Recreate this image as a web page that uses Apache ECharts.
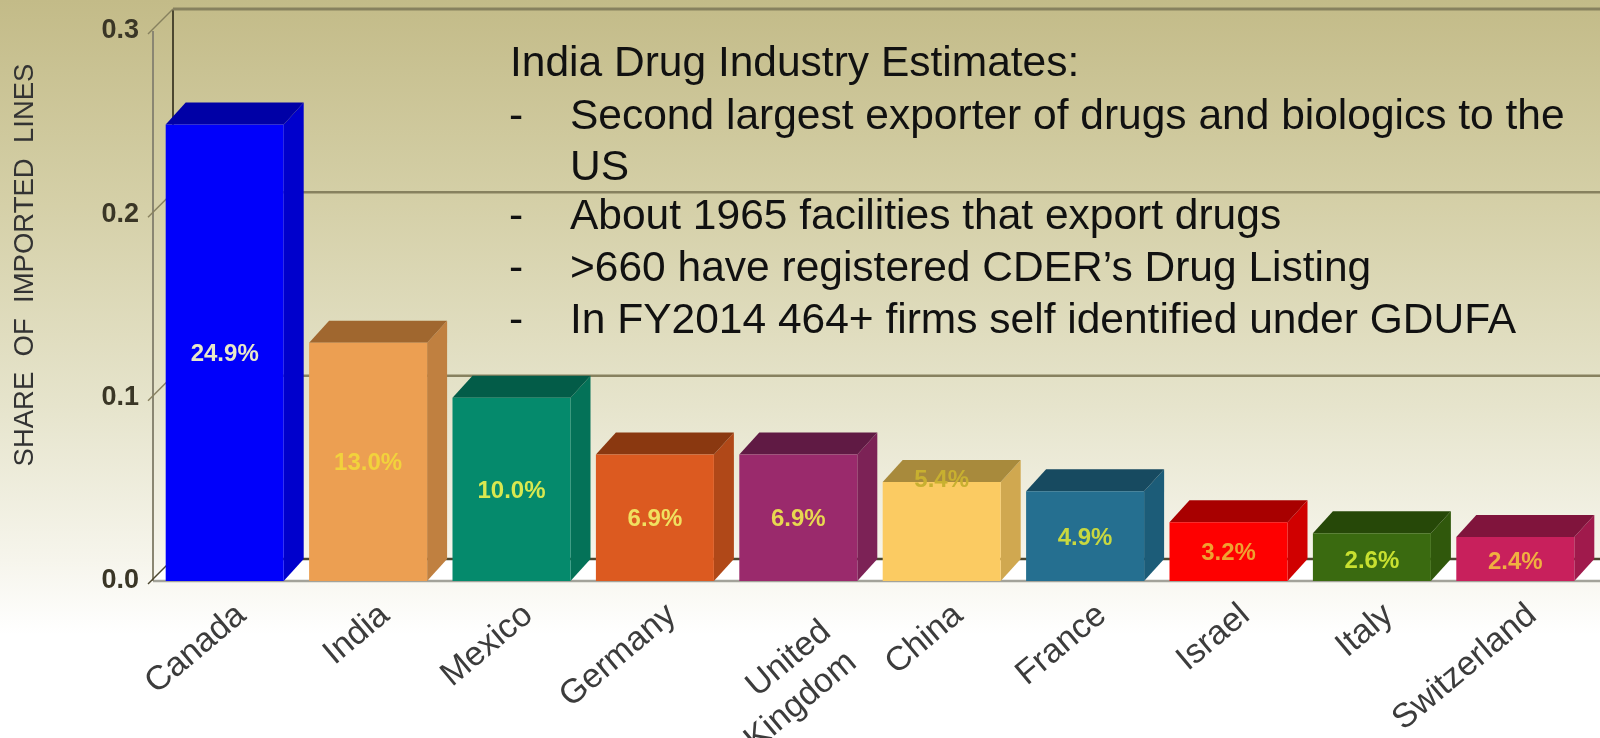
<!DOCTYPE html>
<html>
<head>
<meta charset="utf-8">
<style>html,body{margin:0;padding:0;background:#fff}#chart{width:1600px;height:738px}</style>
<script src="https://cdn.jsdelivr.net/npm/echarts@6/dist/echarts.min.js"></script>
</head>
<body>
<div id="chart"></div>
<script>
// Imported drug lines by country of origin
const countries = ['Canada','India','Mexico','Germany','United\nKingdom','China','France','Israel','Italy','Switzerland'];
const shares = [0.249,0.130,0.100,0.069,0.069,0.054,0.049,0.032,0.026,0.024];
const shareLabels = ['24.9%','13.0%','10.0%','6.9%','6.9%','5.4%','4.9%','3.2%','2.6%','2.4%'];
const labelLevels = [0.1245,0.065,0.05,0.0345,0.0345,0.056,0.0245,0.016,0.012,0.011];
const frontColors = ['#0000fb','#ec9f52','#058a6c','#dc5a20','#9a2a6c','#fbcb62','#256f90','#fe0000','#3a6a10','#c8205c'];
const topColors = ['#0000a6','#a0672f','#035c48','#8a3810','#601a44','#a88a3c','#174a60','#a80000','#264808','#80143c'];
const sideColors = ['#0000cc','#c08040','#047258','#b04818','#7c2256','#d0a850','#1c5c78','#d00000','#30580c','#a01a4c'];
const labelColors = ['#e8e8c8','#f2d23c','#d8e850','#f0e060','#e8d850','#c8b030','#c8d840','#f0a030','#c8e030','#f0b040'];
const wallTicks = [0,0.1,0.2,0.3];
const annotationHead = 'India Drug Industry Estimates:';
const annotationItems = ['Second largest exporter of drugs and biologics to the','US','About 1965 facilities that export drugs','>660 have registered CDER\u2019s Drug Listing','In FY2014 464+ firms self identified under GDUFA'];
const annotationDashes = [true,false,true,true,true];

const DEPTH_X = 20, DEPTH_Y = 22;
const BAR_WIDTH = 118;
const GRID = {left:153, top:31, width:1434, height:550, outerBoundsMode:'none'};

// Back wall, side wall and floor of the 3D frame
function renderWall(params, api) {
  const v = api.value(0);
  const p = api.coord([0, v]);
  const x0 = GRID.left, y = p[1];
  const bx = x0 + DEPTH_X, by = y - DEPTH_Y;
  const children = [];
  if (v === 0) {
    children.push({type:'polygon',shape:{points:[[x0,y],[bx,by],[1640,by],[1620,y]]},style:{fill:'#ffffff'},silent:true});
    children.push({type:'line',shape:{x1:x0,y1:y,x2:1600,y2:y},style:{stroke:'#a3a39a',lineWidth:2.5}});
    children.push({type:'line',shape:{x1:x0,y1:GRID.top,x2:x0,y2:y},style:{stroke:'#8a8672',lineWidth:2}});
    children.push({type:'line',shape:{x1:bx,y1:GRID.top-DEPTH_Y,x2:bx,y2:by},style:{stroke:'#4c4730',lineWidth:2}});
  }
  children.push({type:'line',shape:{x1:bx,y1:by,x2:1600,y2:by},style:{stroke:v === 0 ? '#4c4730' : '#87815f',lineWidth:v === 0.3 ? 3 : 2.5}});
  children.push({type:'line',shape:{x1:x0-5,y1:y+3,x2:bx,y2:by},style:{stroke:v === 0 ? '#4c4730' : '#87815f',lineWidth:1.5}});
  return {type:'group',children};
}

// One extruded bar: front face, top face, side face and its value label
function renderBar(params, api) {
  const i = params.dataIndex;
  const top = api.coord([i, api.value(1)]);
  const base = api.coord([i, 0]);
  const l = top[0] - BAR_WIDTH / 2, r = top[0] + BAR_WIDTH / 2;
  const t = top[1], b = base[1];
  const textY = api.coord([i, labelLevels[i]])[1] + 2;
  return {type:'group',children:[
    {type:'polygon',shape:{points:[[r,t],[r+DEPTH_X,t-DEPTH_Y],[r+DEPTH_X,b-DEPTH_Y],[r,b]]},style:{fill:sideColors[i]}},
    {type:'polygon',shape:{points:[[l,t],[l+DEPTH_X,t-DEPTH_Y],[r+DEPTH_X,t-DEPTH_Y],[r,t]]},style:{fill:topColors[i]}},
    {type:'rect',shape:{x:l,y:t,width:BAR_WIDTH,height:b-t},style:{fill:frontColors[i]}},
    {type:'text',style:{x:top[0],y:textY,text:shareLabels[i],fill:labelColors[i],font:'bold 24px "Liberation Sans"',align:'center',verticalAlign:'middle'}}
  ]};
}

// Text block laid over the upper part of the plot
const textFont = '42.5px "Liberation Sans"';
const lineTops = [96,147,196,248,300];
const annotation = [{type:'text',left:510,top:43,style:{text:annotationHead,font:textFont,fill:'#111'},silent:true}];
annotationItems.forEach((line, i) => {
  if (annotationDashes[i]) annotation.push({type:'text',left:509,top:lineTops[i],style:{text:'-',font:textFont,fill:'#111'},silent:true});
  annotation.push({type:'text',left:570,top:lineTops[i],style:{text:line,font:textFont,fill:'#111'},silent:true});
});

// The two-line category hangs below its anchor, lower than the single-line ones
const categoryData = countries.map(c => c.includes('\n')
  ? {value:c, textStyle:{padding:[0,-20,0,0], verticalAlign:'top', lineHeight:40}}
  : c);

const chart = echarts.init(document.getElementById('chart'), null, {renderer:'canvas'});
chart.setOption({
  animation:false,
  backgroundColor:{type:'linear',x:0,y:0,x2:0,y2:1,colorStops:[
    {offset:0,color:'#c3bb88'},{offset:0.28,color:'#d5d0a8'},{offset:0.55,color:'#e6e4cc'},{offset:0.76,color:'#f6f5ec'},{offset:0.86,color:'#ffffff'},{offset:1,color:'#ffffff'}]},
  grid:GRID,
  xAxis:{type:'category',data:categoryData,axisTick:{show:false},axisLine:{show:false},splitLine:{show:false},
    axisLabel:{rotate:40,interval:0,margin:44,padding:[0,-22,0,0],fontFamily:'"Liberation Sans"',fontSize:34,color:'#3c3c3c',lineHeight:48}},
  yAxis:{type:'value',min:0,max:0.3,interval:0.1,axisLine:{show:false},axisTick:{show:false},splitLine:{show:false},
    name:'SHARE  OF  IMPORTED  LINES',nameLocation:'middle',nameGap:114,
    nameTextStyle:{fontFamily:'"Liberation Sans"',fontSize:27.5,color:'#333',padding:[0,0,0,82]},
    axisLabel:{margin:14,padding:[4,0,0,0],fontFamily:'"Liberation Sans"',fontWeight:'bold',fontSize:27,color:'#3a3626',formatter:v => v.toFixed(1)}},
  graphic:annotation,
  series:[
    {type:'custom',name:'Frame',data:wallTicks.map(v => [v]),encode:{y:0},renderItem:renderWall,silent:true,z:1},
    {type:'custom',name:'Share of imported lines',data:shares.map((v,i) => [i,v]),encode:{x:0,y:1},renderItem:renderBar,z:2}
  ]
});
</script>
</body>
</html>
